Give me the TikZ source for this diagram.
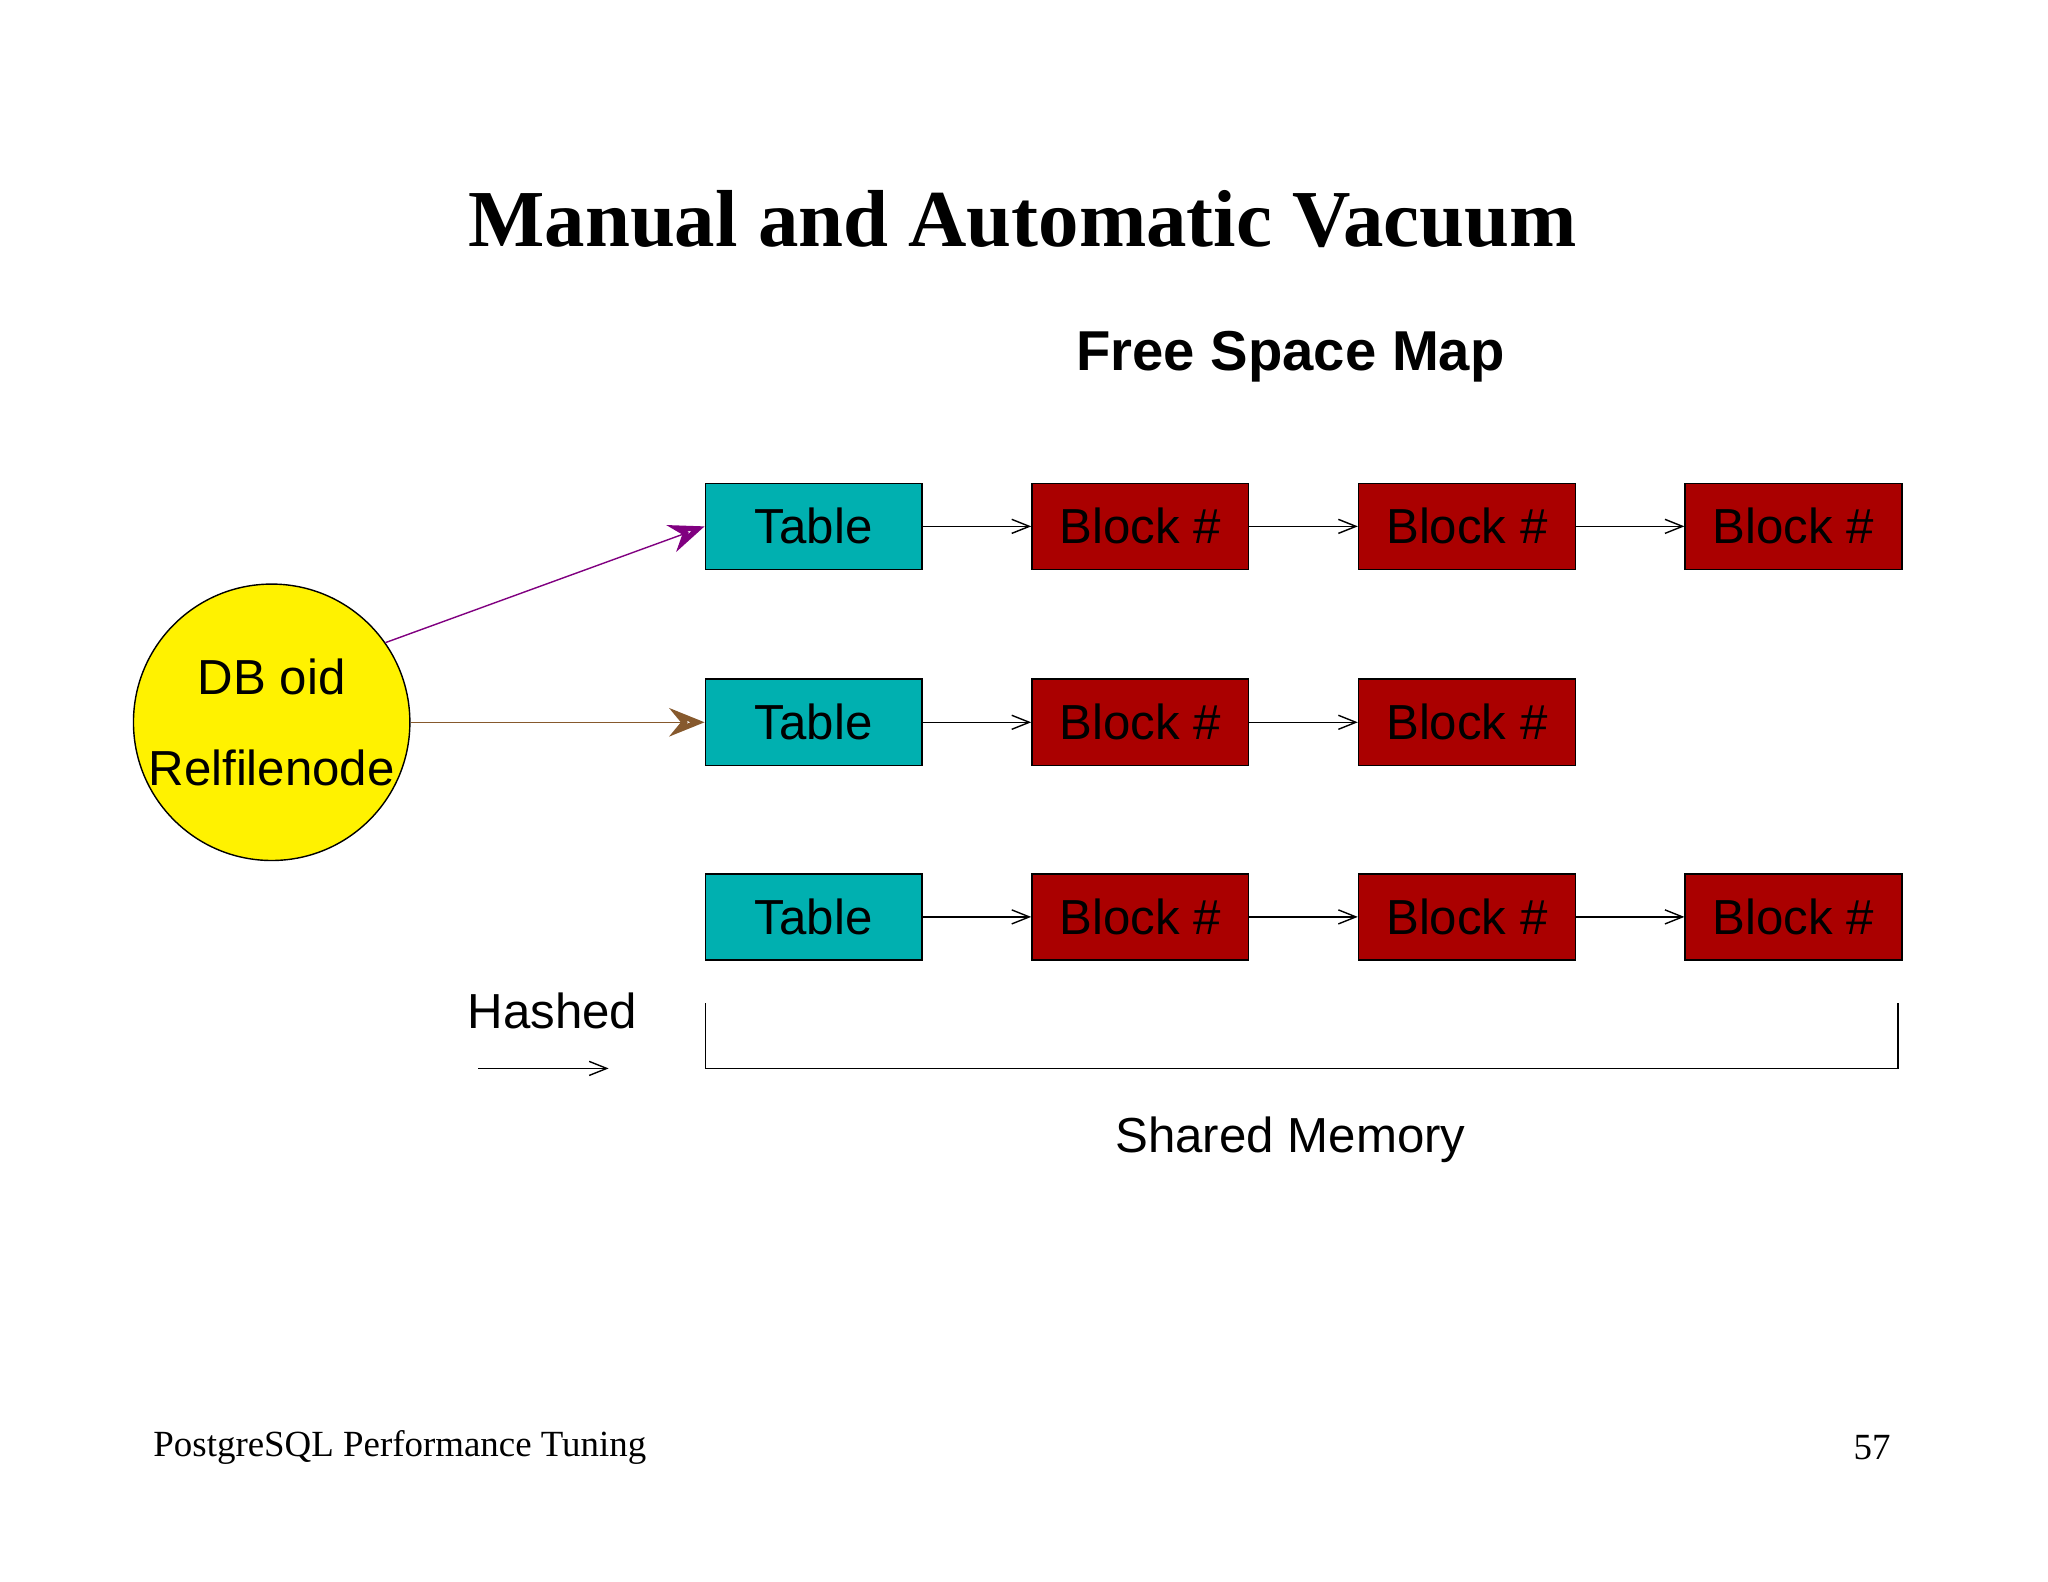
\documentclass[tikz,border=0pt]{standalone}
\usepackage{fontspec}
\setmainfont{Liberation Sans}
\newfontfamily\slidefont{Liberation Serif}
\usetikzlibrary{arrows.meta,positioning}
\definecolor{tablecol}{RGB}{0,176,176}
\definecolor{blockcol}{RGB}{170,0,0}
\begin{document}
\begin{tikzpicture}[>=Stealth, x=0.01306cm, y=-0.01306cm]
    \tikzset{
      box/.style={draw, line width=0.4pt, minimum width=2.168cm, minimum height=0.862cm, inner sep=0pt, font=\fontsize{14}{16}\selectfont},
      tbl/.style={box, fill=tablecol},
      blk/.style={box, fill=blockcol},
      link/.style={-{Straight Barb[length=5pt,width=4pt]}, line width=0.4pt}
    }
    \useasboundingbox (0,0) rectangle (1568,1211);

    % Title and footer
    \node[font=\slidefont\fontsize{23}{26}\selectfont\bfseries] (title) at (783,168) {Manual and Automatic Vacuum};
    \node[font=\fontsize{16}{18}\selectfont\bfseries] (fsm) at (988,273) {Free Space Map};
    \node[font=\slidefont\fontsize{10.5}{12}\selectfont, anchor=west] (foot) at (108,1108) {PostgreSQL Performance Tuning};
    \node[font=\slidefont\fontsize{10.5}{12}\selectfont, anchor=east] (page) at (1457,1108) {57};

    % Hash source
    \node[circle, draw, fill=yellow, minimum size=2.48cm, inner sep=0pt, align=center,
          font=\fontsize{14}{26}\selectfont] (db) at (208,553) {DB oid\\Relfilenode};

    % Tables and blocks
    \node[tbl] (t1) at (623,403) {Table};
    \node[tbl] (t2) at (623,553) {Table};
    \node[tbl] (t3) at (623,702) {Table};
    \foreach \r/\n in {1/3, 2/2, 3/3} {
      \foreach \c in {1,...,\n} {
        \node[blk, right=1.084cm of {\ifnum\c=1 t\r\else b\r\the\numexpr\c-1\relax\fi}] (b\r\c) {Block \#};
      }
    }
    \foreach \r/\n in {1/3, 2/2, 3/3} {
      \draw[link] (t\r) -- (b\r1);
      \foreach \c [remember=\c as \p (initially 1)] in {2,...,\n}
        \draw[link] (b\r\p) -- (b\r\c);
    }

    % Hash arrows
    \draw[->, violet, line width=0.4pt, -{Stealth[open, length=10pt, width=8pt, line width=1.5pt]}] (db.35) -- (t1.west);
    \draw[brown!70!black, line width=0.4pt, -{Stealth[open, length=10pt, width=8pt, line width=1.5pt]}] (db.east) -- (t2.west);

    % Legend
    \node[font=\fontsize{14}{16}\selectfont] (hashed) at (423,774) {Hashed};
    \coordinate (h1) at (366,818);
    \coordinate (h2) at (466,818);
    \draw[link] (h1) -- (h2);

    % Shared memory bracket
    \coordinate (m1) at (540,768);
    \coordinate (m2) at (1453,768);
    \draw[line width=0.4pt] (m1) -- (540,818) -- (1453,818) -- (m2);
    \node[font=\fontsize{14}{16}\selectfont] (shm) at (988,873) {Shared Memory};
\end{tikzpicture}
\end{document}
